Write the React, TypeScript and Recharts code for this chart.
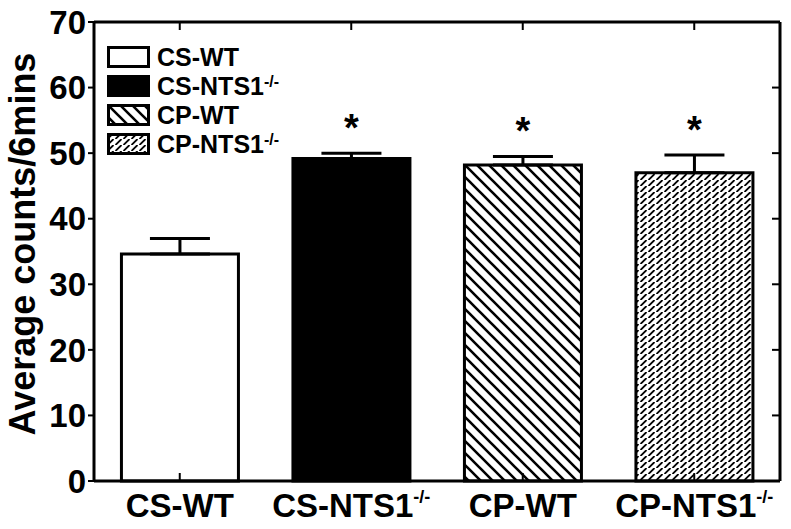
import React from "react";
import {
    BarChart,
    Bar,
    Cell,
    XAxis,
    YAxis,
    ErrorBar,
    LabelList,
    Legend,
} from "recharts";

// groups and their means / SEM
const groups = ["CS-WT", "CS-NTS1", "CP-WT", "CP-NTS1"];
const groupSup = ["", "-/-", "", "-/-"];
const means = [34.6, 49.2, 48.2, 47.0];
const sems = [2.4, 0.8, 1.3, 2.7];
const stars = ["", "*", "*", "*"];
const yTicks = [0, 10, 20, 30, 40, 50, 60, 70];

const fills = ["#ffffff", "#000000", "url(#hatchDiag)", "url(#hatchBrick)"];

const FONT = "'Liberation Sans', Arial, sans-serif";

const data = groups.map((g, i) => ({
    name: g,
    mean: means[i],
    err: [0, sems[i]],
    star: stars[i],
}));

function Patterns() {
    return (
        <defs>
            <pattern id="hatchDiag" patternUnits="userSpaceOnUse" width="12" height="12">
                <rect width="12" height="12" fill="#fff" />
                <path d="M-3,-3 L15,15 M-3,9 L3,15 M9,-3 L15,3" stroke="#000" strokeWidth="2.6" />
            </pattern>
            <pattern id="hatchBrick" patternUnits="userSpaceOnUse" width="8" height="6">
                <rect width="8" height="6" fill="#fff" />
                <path d="M0.5,6 L6.5,0" stroke="#000" strokeWidth="1.8" />
            </pattern>
        </defs>
    );
}

function XTick(props: any) {
    const { x, y, payload } = props;
    const i = groups.indexOf(payload.value);
    return (
        <text
            x={x}
            y={y + 44}
            textAnchor="middle"
            fontFamily={FONT}
            fontWeight="bold"
            fontSize={33}
            fill="#000"
        >
            {payload.value}
            {groupSup[i] ? (
                <tspan dy={-14} fontSize={18}>
                    {groupSup[i]}
                </tspan>
            ) : null}
        </text>
    );
}

function StarLabel(props: any) {
    const { x, y, width, height, value, index } = props;
    if (!value) return null;
    const pxPerUnit = height / means[index];
    const top = y - sems[index] * pxPerUnit;
    return (
        <text
            x={x + width / 2}
            y={top - 12}
            textAnchor="middle"
            fontFamily={FONT}
            fontWeight="bold"
            fontSize={38}
            fill="#000"
        >
            {value}
        </text>
    );
}

function LegendBox() {
    return (
        <div style={{ fontFamily: FONT, fontWeight: "bold", fontSize: 25, color: "#000" }}>
            {groups.map((g, i) => (
                <div
                    key={g}
                    style={{ display: "flex", alignItems: "center", height: 29, whiteSpace: "nowrap" }}
                >
                    <svg width={43} height={22} style={{ display: "block" }}>
                        <rect x={1.5} y={1.5} width={40} height={19} fill={fills[i]} stroke="#000" strokeWidth={3} />
                    </svg>
                    <span style={{ marginLeft: 7, lineHeight: "22px" }}>
                        {g}
                        {groupSup[i] ? (
                            <sup style={{ fontSize: 16, verticalAlign: "top", lineHeight: "14px" }}>{groupSup[i]}</sup>
                        ) : null}
                    </span>
                </div>
            ))}
        </div>
    );
}

function YLabel() {
    return (
        <text
            x={35}
            y={244}
            transform="rotate(-90, 35, 244)"
            textAnchor="middle"
            fontFamily={FONT}
            fontWeight="bold"
            fontSize={36}
            fill="#000"
        >
            Average counts/6mins
        </text>
    );
}

const noLabel = () => "";

export default function App() {
    return (
        <div style={{ position: "absolute", left: 0, top: 0, width: 791, height: 529, background: "#fff" }}>
            <BarChart
                width={791}
                height={529}
                data={data}
                margin={{ top: 22, right: 11, bottom: 0, left: 0 }}
                barCategoryGap="16%"
            >
                <Patterns />
                <XAxis
                    dataKey="name"
                    height={48}
                    axisLine={{ stroke: "#000", strokeWidth: 3 }}
                    tickLine={{ stroke: "#000", strokeWidth: 2 }}
                    tickSize={-8}
                    tickMargin={0}
                    tick={<XTick />}
                />
                <XAxis
                    xAxisId="top"
                    dataKey="name"
                    orientation="top"
                    mirror
                    tickFormatter={noLabel}
                    tickSize={8}
                    axisLine={{ stroke: "#000", strokeWidth: 3 }}
                    tickLine={{ stroke: "#000", strokeWidth: 2 }}
                />
                <YAxis
                    width={94}
                    domain={[0, 70]}
                    ticks={yTicks}
                    interval={0}
                    tickSize={6}
                    tickMargin={2}
                    axisLine={{ stroke: "#000", strokeWidth: 3 }}
                    tickLine={{ stroke: "#000", strokeWidth: 2 }}
                    tick={{ fill: "#000", fontSize: 33, fontWeight: "bold", fontFamily: FONT }}
                    label={{ content: () => <YLabel /> }}
                />
                <YAxis
                    yAxisId="right"
                    orientation="right"
                    mirror
                    domain={[0, 70]}
                    ticks={yTicks}
                    interval={0}
                    tickFormatter={noLabel}
                    tickSize={8}
                    axisLine={{ stroke: "#000", strokeWidth: 3 }}
                    tickLine={{ stroke: "#000", strokeWidth: 2 }}
                />
                <Legend
                    layout="vertical"
                    align="center"
                    verticalAlign="middle"
                    content={() => <LegendBox />}
                    wrapperStyle={{ left: 107, top: 42, width: "auto", height: "auto" }}
                />
                {/* invisible twin so the frame axes (top/right) get ticks */}
                <Bar
                    xAxisId="top"
                    yAxisId="right"
                    dataKey="mean"
                    fill="none"
                    stroke="none"
                    legendType="none"
                    isAnimationActive={false}
                />
                <Bar dataKey="mean" stroke="#000" strokeWidth={3} isAnimationActive={false}>
                    {data.map((d, i) => (
                        <Cell key={d.name} fill={fills[i]} />
                    ))}
                    <ErrorBar dataKey="err" width={30} stroke="#000" strokeWidth={3} direction="y" />
                    <LabelList dataKey="star" content={<StarLabel />} />
                </Bar>
            </BarChart>
        </div>
    );
}
